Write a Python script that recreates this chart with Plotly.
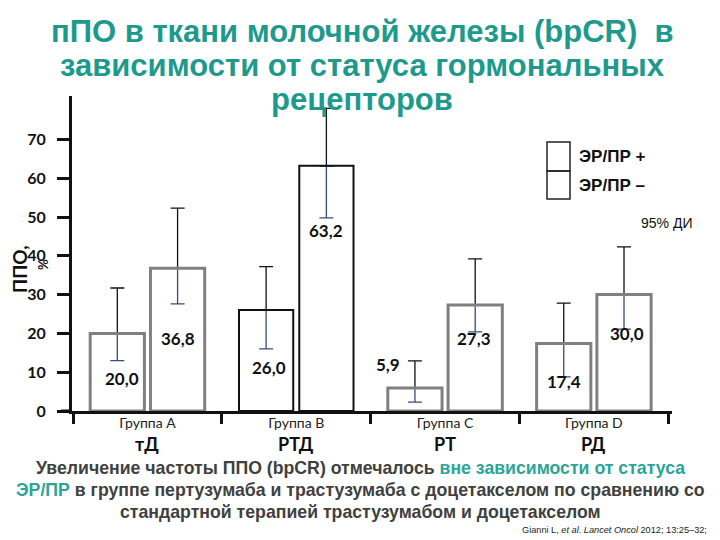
import plotly.graph_objects as go

# ---------------- data ----------------
groups = ["A", "B", "C", "D"]
group_names = ["Группа A", "Группа B", "Группа C", "Группа D"]
regimens = ["тД", "РТД", "РТ", "РД"]

er_pos = [20.0, 26.0, 5.9, 17.4]          # ЭР/ПР +
er_neg = [36.8, 63.2, 27.3, 30.0]         # ЭР/ПР –
er_pos_lo = [13.0, 16.0, 2.3, 8.8]        # 95% ДИ, lower
er_pos_hi = [31.7, 37.2, 12.9, 27.8]      # 95% ДИ, upper
er_neg_lo = [27.6, 49.8, 20.4, 21.1]
er_neg_hi = [52.3, 78.0, 39.2, 42.3]

y_ticks = [0, 10, 20, 30, 40, 50, 60, 70]

title_lines = ["пПО в ткани молочной железы (bpCR)  в",
               "зависимости от статуса гормональных",
               "рецепторов"]

# ---------------- styles / placement ----------------
outline_colors = ["#808080", "#111111", "#808080", "#808080"]
outline_widths = [3, 2, 3, 3]
pos_label_y = [8.5, 11.1, 12.1, 7.7]
neg_label_y = [18.8, 46.6, 18.8, 20.1]
pos_label_dx = [-25, -27, -57, -30]
neg_label_dx = [31, 30, 29, 33]
title_line_y = [31, 66, 100]
bottom_line_y = [468, 490, 512]

TEAL = "#1e9a8d"
TEAL2 = "#2aa597"
NAVY = "#3b4a7c"
NUM_FONT = "Lato"
NARROW = "Liberation Sans Narrow, Arial Narrow, Liberation Sans, sans-serif"

W, H = 720, 540
L, R, T, B = 72, 48, 96, 129
PW, PH = W - L - R, H - T - B


def px(x):
    return (x - L) / PW


def py(y):
    return (H - B - y) / PH


def fmt(v):
    return f"{v:.1f}".replace(".", ",")


fig = go.Figure()

# error bars (drawn first, under the bar outlines)
for key, vals, lo, hi in [("pos", er_pos, er_pos_lo, er_pos_hi),
                          ("neg", er_neg, er_neg_lo, er_neg_hi)]:
    fig.add_trace(go.Bar(
        x=groups, y=vals, offsetgroup=key, showlegend=False, hoverinfo="skip",
        marker=dict(color="rgba(0,0,0,0)", line=dict(width=0)),
        error_y=dict(type="data", symmetric=False,
                     array=[h - v for h, v in zip(hi, vals)],
                     arrayminus=[0] * len(vals),
                     color="#111111", thickness=1.3, width=7)))
    fig.add_trace(go.Bar(
        x=groups, y=vals, offsetgroup=key, showlegend=False, hoverinfo="skip",
        marker=dict(color="rgba(0,0,0,0)", line=dict(width=0)),
        error_y=dict(type="data", symmetric=False,
                     array=[0] * len(vals),
                     arrayminus=[v - l for v, l in zip(vals, lo)],
                     color=NAVY, thickness=1.3, width=7)))

# visible bars (transparent fill, outlines)
for key, vals, name in [("pos", er_pos, "ЭР/ПР +"), ("neg", er_neg, "ЭР/ПР –")]:
    fig.add_trace(go.Bar(
        x=groups, y=vals, offsetgroup=key, name=name, showlegend=False,
        marker=dict(color="rgba(255,255,255,0)",
                    line=dict(color=outline_colors, width=outline_widths))))

fig.update_layout(
    width=W, height=H,
    margin=dict(l=L, r=R, t=T, b=B, pad=0),
    paper_bgcolor="white", plot_bgcolor="white",
    barmode="group", bargap=0.19, bargroupgap=0.1,
    showlegend=False,
    font=dict(family=NUM_FONT, color="#111111"),
    xaxis=dict(
        type="category", range=[-0.507, 3.525],
        tickvals=groups, ticktext=group_names,
        tickson="boundaries", ticks="outside", ticklen=10, tickwidth=3,
        tickcolor="#111111",
        showline=True, linewidth=3, linecolor="#111111",
        showgrid=False, zeroline=False,
        tickfont=dict(family=NUM_FONT, size=14, color="#222222"),
        ticklabelstandoff=-3,
    ),
    yaxis=dict(
        range=[0, PH / 3.88], tickvals=y_ticks,
        ticks="outside", ticklen=12, tickwidth=3, tickcolor="#111111",
        showline=True, linewidth=3, linecolor="#111111",
        showgrid=False, zeroline=False,
        tickfont=dict(family=NUM_FONT, size=16, color="#111111", weight=700),
        ticklabelstandoff=8,
    ),
)

# regimen labels under the group names
for g, r in zip(groups, regimens):
    fig.add_annotation(x=g, y=py(444), xref="x", yref="paper", showarrow=False,
                       xanchor="center", yanchor="middle", text=f"<b>{r}</b>",
                       font=dict(family=NUM_FONT, size=18, color="#111111"))

# bar value labels
for i, g in enumerate(groups):
    fig.add_annotation(x=g, y=pos_label_y[i], xref="x", yref="y", xshift=pos_label_dx[i],
                       text=f"<b>{fmt(er_pos[i])}</b>", showarrow=False,
                       font=dict(family=NUM_FONT, size=17, color="#111111"))
    fig.add_annotation(x=g, y=neg_label_y[i], xref="x", yref="y", xshift=neg_label_dx[i],
                       text=f"<b>{fmt(er_neg[i])}</b>", showarrow=False,
                       font=dict(family=NUM_FONT, size=17, color="#111111"))

# title (three lines)
for line, ly in zip(title_lines, title_line_y):
    fig.add_annotation(
        x=px(362), y=py(ly), xref="paper", yref="paper", showarrow=False,
        xanchor="center", yanchor="middle", text=f"<b>{line}</b>",
        font=dict(family=NARROW, size=31, color=TEAL))

# y axis title
fig.add_annotation(x=px(19), y=py(269), xref="paper", yref="paper", showarrow=False,
                   xanchor="center", yanchor="middle",
                   text="<b>ППО,</b>", textangle=-90,
                   font=dict(family=NUM_FONT, size=19, color="#111111"))
fig.add_annotation(x=px(43), y=py(265), xref="paper", yref="paper", showarrow=False,
                   xanchor="center", yanchor="middle",
                   text="<b>%</b>", textangle=-90,
                   font=dict(family=NUM_FONT, size=13, color="#111111"))

# x-axis line extension to the left
fig.add_shape(type="line", xref="paper", yref="paper", x0=px(61), x1=0, y0=0, y1=0,
              line=dict(color="#111111", width=3))

# legend boxes
fig.add_shape(type="rect", xref="paper", yref="paper", x0=px(547), x1=px(570),
              y0=py(171), y1=py(142), line=dict(color="#222222", width=1.5))
fig.add_shape(type="rect", xref="paper", yref="paper", x0=px(547), x1=px(570),
              y0=py(199), y1=py(171), line=dict(color="#222222", width=1.5))
fig.add_annotation(x=px(577), y=py(156), xref="paper", yref="paper", showarrow=False,
                   xanchor="left", yanchor="middle", text="<b>ЭР/ПР +</b>",
                   font=dict(family="Liberation Sans", size=17, color="#111111"))
fig.add_annotation(x=px(577), y=py(185), xref="paper", yref="paper", showarrow=False,
                   xanchor="left", yanchor="middle", text="<b>ЭР/ПР –</b>",
                   font=dict(family="Liberation Sans", size=17, color="#111111"))
fig.add_annotation(x=px(639), y=py(223), xref="paper", yref="paper", showarrow=False,
                   xanchor="left", yanchor="middle", text="95% ДИ",
                   font=dict(family=NARROW, size=14, color="#111111"))

# bottom text
bottom_lines = [
    f"<b>Увеличение частоты ППО (bpCR) отмечалось "
    f"<span style='color:{TEAL2}'>вне зависимости от статуса</span></b>",
    f"<b><span style='color:{TEAL2}'>ЭР/ПР</span> в группе пертузумаба и трастузумаба "
    f"с доцетакселом по сравнению со</b>",
    "<b>стандартной терапией трастузумабом и доцетакселом</b>",
]
for line, ly in zip(bottom_lines, bottom_line_y):
    fig.add_annotation(
        x=px(360), y=py(ly), xref="paper", yref="paper", showarrow=False,
        xanchor="center", yanchor="middle", text=line,
        font=dict(family=NARROW, size=17.7, color="#404040"))

fig.add_annotation(
    x=px(709), y=py(530), xref="paper", yref="paper", showarrow=False,
    xanchor="right", yanchor="middle",
    text="Gianni L, <i>et al</i>. <i>Lancet Oncol</i> 2012; 13:25–32;",
    font=dict(family=NARROW, size=9.2, color="#222222"))

fig.write_html("out.html",
               config={"displayModeBar": False},
               post_script="document.body.style.margin='0px';document.body.style.padding='0px';")
